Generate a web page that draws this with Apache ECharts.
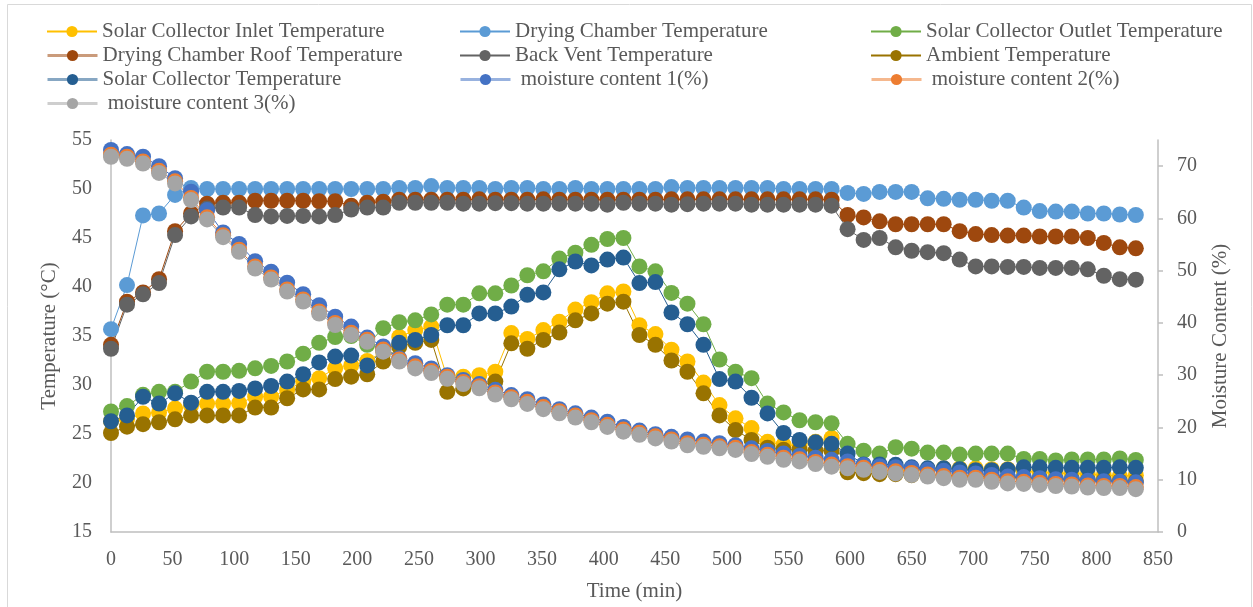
<!DOCTYPE html>
<html>
<head>
<meta charset="utf-8">
<script src="https://cdn.jsdelivr.net/npm/echarts@6/dist/echarts.min.js"></script>
<style>
html,body{margin:0;padding:0;background:#fff;}
#chart{width:1253px;height:607px;}
</style>
</head>
<body>
<div id="chart"></div>
<script>
// ---------- DATA ----------
const timeMin = [0,13,26,39,52,65,78,91,104,117,130,143,156,169,182,195,208,221,234,247,260,273,286,299,312,325,338,351,364,377,390,403,416,429,442,455,468,481,494,507,520,533,546,559,572,585,598,611,624,637,650,663,676,689,702,715,728,741,754,767,780,793,806,819,832];

const inletTemp = [26.3,26.5,27.1,27.2,27.6,27.9,28.1,28.1,28.15,28.8,28.8,29.5,30.35,30.7,31.7,32.0,32.45,33.4,34.9,35.6,35.95,30.7,30.85,31.0,31.35,35.3,34.7,35.6,36.45,37.7,38.45,39.35,39.55,36.1,35.2,33.6,32.4,30.25,27.95,26.6,25.6,24.2,23.9,23.8,24.2,24.6,21.4,21.3,21.2,21.3,21.3,21.4,21.5,21.5,21.5,21.4,21.4,21.2,21.1,21.0,21.0,20.9,20.8,20.7,20.8];

const chamberTemp = [35.7,40.2,47.3,47.5,49.4,50.1,50.0,50.0,50.0,50.0,50.0,50.0,50.0,50.0,50.0,50.0,50.0,50.0,50.1,50.1,50.3,50.1,50.1,50.1,50.0,50.1,50.1,50.0,50.0,50.1,50.0,50.0,50.0,50.0,50.0,50.2,50.1,50.1,50.1,50.1,50.1,50.1,50.0,50.0,50.0,50.0,49.6,49.5,49.7,49.7,49.7,49.05,49.0,48.9,48.9,48.8,48.8,48.1,47.75,47.7,47.7,47.5,47.5,47.4,47.35];

const outletTemp = [27.3,27.85,29.0,29.3,29.3,30.35,31.35,31.35,31.45,31.7,31.95,32.4,33.2,34.3,34.9,35.0,34.1,35.8,36.4,36.6,37.2,38.2,38.2,39.35,39.35,40.15,41.2,41.6,42.9,43.5,44.3,44.9,45.0,42.1,41.6,39.4,38.3,36.2,32.6,31.35,30.7,28.1,27.2,26.4,26.2,26.1,24.0,23.3,23.0,23.65,23.5,23.1,23.1,22.9,23.0,23.0,23.0,22.45,22.45,22.3,22.4,22.4,22.4,22.5,22.35];

const roofTemp = [34.1,38.5,39.45,40.8,45.7,47.5,48.5,48.6,48.6,48.8,48.8,48.8,48.8,48.75,48.75,48.3,48.6,48.7,48.9,48.9,48.9,48.9,48.9,48.95,48.9,48.9,48.9,48.95,48.9,48.9,48.9,48.9,48.9,48.9,48.9,48.95,48.95,48.95,48.95,48.95,48.95,48.95,48.95,48.95,48.95,48.9,47.35,47.1,46.7,46.4,46.4,46.4,46.4,45.7,45.4,45.3,45.25,45.25,45.15,45.15,45.15,45.0,44.5,44.05,43.95];

const backVentTemp = [33.7,38.2,39.25,40.4,45.3,47.2,48.0,48.1,48.1,47.35,47.2,47.25,47.25,47.2,47.35,47.9,48.1,48.1,48.6,48.6,48.6,48.6,48.5,48.5,48.55,48.55,48.5,48.5,48.5,48.5,48.5,48.4,48.6,48.5,48.5,48.4,48.45,48.5,48.5,48.5,48.4,48.4,48.4,48.4,48.4,48.3,45.9,44.8,45.0,44.05,43.7,43.55,43.45,42.8,42.1,42.1,42.05,42.05,41.95,41.95,41.95,41.8,41.15,40.8,40.75];

const ambientTemp = [25.1,25.75,26.0,26.2,26.5,26.9,26.9,26.9,26.9,27.7,27.7,28.65,29.55,29.55,30.6,30.85,31.1,32.4,33.9,34.3,34.6,29.3,29.65,30.0,30.35,34.25,33.7,34.6,35.35,36.6,37.3,38.3,38.5,35.1,34.1,32.5,31.35,29.15,26.9,25.4,24.4,23.6,23.4,23.4,23.3,23.3,21.1,21.0,20.9,20.9,20.8,20.8,20.8,20.7,20.7,20.6,20.6,20.5,20.5,20.4,20.4,20.3,20.3,20.2,20.2];

const collectorTemp = [26.3,26.9,28.8,28.1,29.15,28.2,29.3,29.3,29.4,29.65,29.9,30.35,31.1,32.3,32.9,33.0,32.0,33.6,34.3,34.6,35.1,36.1,36.1,37.3,37.3,38.0,39.2,39.45,41.8,42.6,42.2,42.8,43.0,40.4,40.5,37.4,36.2,34.1,30.6,30.35,28.7,27.1,25.1,24.4,24.15,24.0,23.0,21.9,21.9,21.85,21.6,21.5,21.5,21.4,21.3,21.3,21.35,21.6,21.6,21.55,21.55,21.55,21.55,21.6,21.55];

const moisture1 = [73.1,72.3,71.8,70.0,67.7,65.1,61.6,57.3,55.1,51.8,49.8,47.7,45.5,43.4,41.2,39.3,37.2,35.5,33.2,32.3,31.3,30.0,29.1,28.3,27.2,26.2,25.4,24.4,23.5,22.7,21.9,21.1,20.1,19.4,18.7,18.2,17.7,17.3,17.0,16.6,16.0,15.5,15.0,14.6,14.2,13.8,13.5,12.8,12.6,12.4,12.2,11.9,11.7,11.4,11.2,10.9,10.6,10.5,10.3,10.1,10.0,9.8,9.7,9.6,9.5];

const moisture2 = [72.2,71.8,70.9,69.1,67.1,63.9,60.2,56.8,54.0,50.8,48.7,46.4,44.5,42.2,40.0,38.1,36.8,34.9,33.0,31.7,30.8,29.7,28.7,27.9,26.7,25.8,24.9,23.9,23.1,22.3,21.4,20.5,19.6,19.0,18.3,17.7,17.0,16.7,16.4,16.1,15.3,14.8,14.2,13.9,13.4,12.9,12.6,12.3,11.9,11.6,11.3,11.0,10.7,10.4,10.4,10.0,9.7,9.6,9.4,9.2,9.1,8.9,8.8,8.8,8.6];

const moisture3 = [71.8,71.4,70.5,68.7,66.7,63.5,59.8,56.4,53.6,50.4,48.3,46.0,44.1,41.8,39.6,37.7,36.4,34.5,32.6,31.3,30.4,29.3,28.3,27.5,26.3,25.4,24.5,23.5,22.7,21.9,21.0,20.1,19.2,18.6,17.9,17.3,16.6,16.3,16.0,15.7,14.9,14.4,13.8,13.5,13.0,12.5,12.2,11.9,11.5,11.2,10.9,10.6,10.3,10.0,10.0,9.6,9.3,9.2,9.0,8.8,8.7,8.5,8.4,8.4,8.2];

const seriesNames = ['Solar Collector Inlet Temperature','Drying Chamber Temperature','Solar Collector Outlet Temperature','Drying Chamber Roof Temperature','Back Vent Temperature','Ambient Temperature','Solar Collector Temperature',' moisture content 1(%)',' moisture content 2(%)',' moisture content 3(%)'];
const tempTicks = [15,20,25,30,35,40,45,50,55];
const moistTicks = [0,10,20,30,40,50,60,70];

// ---------- CHART ----------
const FONT = '"Liberation Serif","Times New Roman",serif';
const TXT = '#595959';
const AX = '#BFBFBF';
const colors = ['#FFC000','#5B9BD5','#70AD47','#9E480E','#636363','#997300','#255E91','#4472C4','#ED7D31','#A5A5A5'];
const values = [inletTemp,chamberTemp,outletTemp,roofTemp,backVentTemp,ambientTemp,collectorTemp,moisture1,moisture2,moisture3];
const yIdx = [0,0,0,0,0,0,0,1,1,1];
const softLegend = [false,false,false,true,false,false,true,true,true,true];

const series = seriesNames.map((n,k)=>({
  name:n, type:'line', xAxisIndex:0, yAxisIndex:yIdx[k],
  data: timeMin.map((t,i)=>[t, values[k][i]]),
  symbol:'circle', symbolSize:16, showSymbol:true,
  lineStyle:{color:colors[k], width:1},
  itemStyle:{color:colors[k]},
  emphasis:{disabled:true}, animation:false
}));

// legend placement: 3 columns, 4 rows
const colX = [46, 459, 870];
const rowY = [32, 56, 80, 104];
const legends = seriesNames.map((n,k)=>{
  const r = Math.floor(k/3), c = k%3;
  const item = {name:n};
  if (softLegend[k]) item.lineStyle = {width:3, opacity:0.55};
  return {
    data:[item],
    left: colX[c], top: rowY[r]-11,
    itemWidth:50, itemHeight:14, padding:0,
    textStyle:{fontFamily:FONT, fontSize:21, color:TXT},
    selectedMode:false
  };
});

const chart = echarts.init(document.getElementById('chart'), null, {renderer:'canvas'});
chart.setOption({
  animation:false,
  backgroundColor:'#fff',
  graphic:[{type:'rect', shape:{x:7.5,y:4.5,width:1244,height:610}, style:{fill:'none', stroke:'#D9D9D9', lineWidth:1}, silent:true}],
  legend: legends,
  grid:{left:111, right:95, top:140, bottom:75, containLabel:false, outerBoundsMode:'none'},
  xAxis:{
    type:'value', min:0, max:850, interval:50,
    name:'Time (min)', nameLocation:'middle', nameGap:49,
    nameTextStyle:{fontFamily:FONT, fontSize:21, color:TXT},
    axisLine:{show:true, onZero:false, lineStyle:{color:AX, width:1.5}},
    axisTick:{show:false},
    splitLine:{show:false},
    axisLabel:{fontFamily:FONT, fontSize:20, color:TXT, margin:18}
  },
  yAxis:[{
    type:'value', min:15, max:55, interval:5, position:'left',
    name:'Temperature (°C)', nameLocation:'middle', nameGap:51, nameRotate:90,
    nameTextStyle:{fontFamily:FONT, fontSize:21, color:TXT},
    axisLine:{show:true, lineStyle:{color:AX, width:1.5}},
    axisTick:{show:false},
    splitLine:{show:false},
    axisLabel:{fontFamily:FONT, fontSize:20, color:TXT, margin:19, customValues:tempTicks}
  },{
    type:'value', min:0, max:75, interval:10, position:'right',
    name:'Moisture Content (%)', nameLocation:'middle', nameGap:52, nameRotate:90,
    nameTextStyle:{fontFamily:FONT, fontSize:21, color:TXT},
    axisLine:{show:true, lineStyle:{color:AX, width:1.5}},
    axisTick:{show:true, length:5, inside:false, lineStyle:{color:AX, width:1.5}, customValues:moistTicks},
    splitLine:{show:false},
    axisLabel:{fontFamily:FONT, fontSize:20, color:TXT, margin:19, customValues:moistTicks}
  }],
  series: series
});
</script>
</body>
</html>
